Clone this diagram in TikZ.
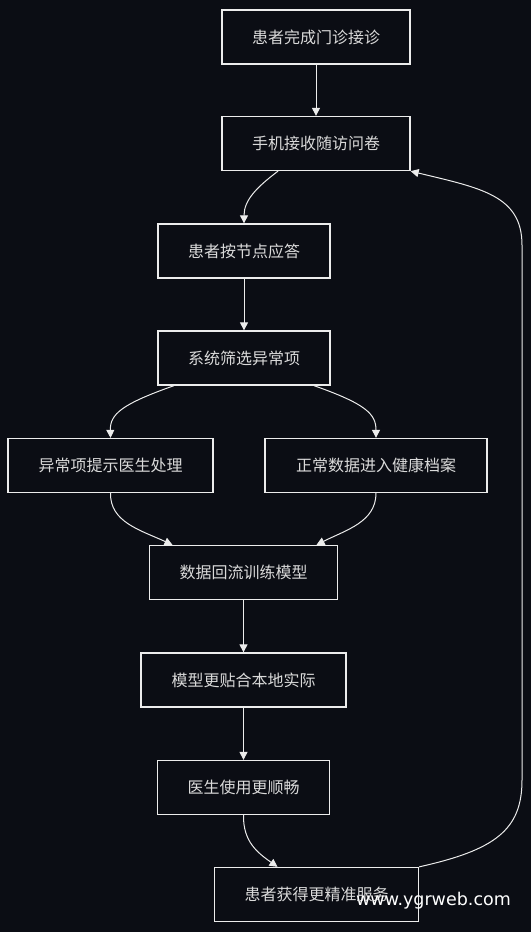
\documentclass[tikz,border=0pt]{standalone}
\usepackage{fontspec}
\newfontfamily\cjk{Noto Sans CJK SC}
\newfontfamily\wmfont{DejaVu Sans}
\usetikzlibrary{arrows.meta}

\definecolor{bgdark}{RGB}{11,13,20}
\definecolor{boxline}{RGB}{236,236,236}
\definecolor{boxtext}{RGB}{218,218,218}

\tikzset{
	flowbox/.style={draw=boxline, line width=1.3pt, fill=bgdark, text=boxtext,
		font=\cjk\fontsize{16}{18}\selectfont, minimum height=54pt, inner xsep=30pt, inner ysep=0pt},
	flowline/.style={draw=boxline, line width=1pt, -{Triangle[length=8pt,width=8pt]}},
	wmark/.style={text=white, font=\wmfont\fontsize{17.5}{20}\selectfont, inner sep=0pt}
}

\begin{document}
\begin{tikzpicture}[x=1pt, y=-1pt]
			%%%%% START %%%%%
			
			\fill[bgdark] (0, 0) rectangle (531, 932);
			\useasboundingbox (0, 0) rectangle (531, 932);
			
			\node[flowbox] (visit) at (316, 37) {患者完成门诊接诊};
			\node[flowbox] (survey) at (316, 143.5) {手机接收随访问卷};
			\node[flowbox] (answer) at (244, 251) {患者按节点应答};
			\node[flowbox] (screen) at (244, 358) {系统筛选异常项};
			\node[flowbox, minimum width=205pt] (alert) at (110.5, 465.5) {异常项提示医生处理};
			\node[flowbox, minimum width=222pt] (record) at (376, 465.5) {正常数据进入健康档案};
			\node[flowbox] (train) at (243.5, 572.5) {数据回流训练模型};
			\node[flowbox, minimum width=205pt] (model) at (243.5, 680) {模型更贴合本地实际};
			\node[flowbox] (doctor) at (243.5, 787.5) {医生使用更顺畅};
			\node[flowbox] (service) at (316.5, 894.5) {患者获得更精准服务};
			
			\draw[flowline] (visit) -- (survey);
			\draw[flowline] ([xshift=-38pt]survey.south) .. controls (257, 187) and (244, 200) .. (answer.north);
			\draw[flowline] (answer) -- (screen);
			\draw[flowline] ([xshift=-70pt]screen.south) .. controls (122, 404) and (110, 414) .. (alert.north);
			\draw[flowline] ([xshift=70pt]screen.south) .. controls (366, 404) and (376, 414) .. (record.north);
			\draw[flowline] (alert.south) .. controls (110, 522) and (140, 530) .. ([xshift=-71pt]train.north);
			\draw[flowline] (record.south) .. controls (376, 522) and (346, 530) .. ([xshift=73pt]train.north);
			\draw[flowline] (train) -- (model);
			\draw[flowline] (model) -- (doctor);
			\draw[flowline] (doctor.south) .. controls (243, 842) and (258, 853) .. ([xshift=-39pt]service.north);
			
			% back to the survey
			\draw[flowline] (service.north east) .. controls (495, 850) and (522, 830) .. (522, 780)
				-- (522, 245) .. controls (522, 195) and (480, 188) .. (survey.south east);
			
			\node[wmark] (mark) at (433.5, 901) {www.ygrweb.com};
			
			%%%%% END %%%%%
\end{tikzpicture}
\end{document}
